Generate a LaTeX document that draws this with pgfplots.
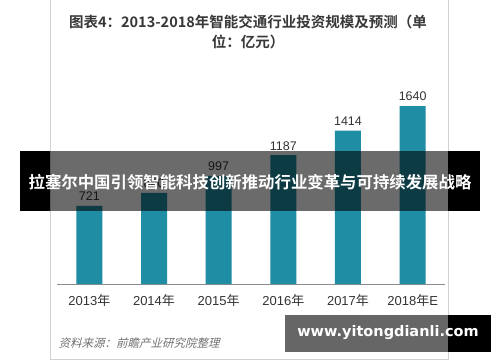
\documentclass[border=0pt]{standalone}
\usepackage{fontspec}
\usepackage{pgfplots}
\pgfplotsset{compat=1.18}
\setmainfont{Liberation Sans}
\newfontfamily\cjk{Noto Sans CJK SC}
\newfontfamily\cjkb{Noto Sans CJK SC Bold}
\newfontfamily\cjkit[FakeSlant=0.25]{Noto Sans CJK SC}
\newfontfamily\webfont{DejaVu Sans Bold}
\definecolor{bar}{HTML}{1F8DA3}
\definecolor{txt}{HTML}{333333}
\begin{document}
\begin{tikzpicture}[x=1pt,y=1pt]
\useasboundingbox (0,0) rectangle (500,362);
\fill[white] (0,0) rectangle (500,362);
\draw[black!18, line width=1pt] (50,3) rectangle (448,362.5);
% title
\node[align=center, text=black!78, font=\cjkb\fontsize{14.5}{20}\selectfont] at (248,330)
  {图表4：2013-2018年智能交通行业投资规模及预测（单\\位：亿元）};
\begin{axis}[
  at={(57pt,78pt)}, anchor=south west,
  scale only axis, width=388pt, height=200pt,
  xmin=-0.5, xmax=5.5, ymin=0, ymax=1843,
  axis x line*=bottom, axis y line=none,
  x axis line style={draw=black!45, line width=0.6pt, -},
  major tick length=0pt,
  xtick={0,1,2,3,4,5},
  xticklabels={2013{\cjk 年},2014{\cjk 年},2015{\cjk 年},2016{\cjk 年},2017{\cjk 年},2018{\cjk 年}E},
  xticklabel style={font=\fontsize{13}{13}\selectfont, text=txt, yshift=-7pt},
  ytick=\empty,
  ybar, bar width=26pt,
  nodes near coords,
  every node near coord/.append style={font=\fontsize{12.5}{12.5}\selectfont, text=txt, yshift=1.5pt, /pgf/number format/assume math mode=true, /pgf/number format/1000 sep={}},
  /pgf/number format/1000 sep={},
  clip=false,
]
\addplot[fill=bar, draw=none] coordinates {(0,721) (1,840) (2,997) (3,1187) (4,1414) (5,1640)};
\end{axis}
% banner
\fill[black] (20,151) rectangle (50,211);
\fill[black] (448,151) rectangle (480,211);
\fill[black, opacity=0.58] (50,151) rectangle (448,211);
\node[text=white, font=\cjkb\fontsize{16.4}{16.4}\selectfont] at (250,180) {拉塞尔中国引领智能科技创新推动行业变革与可持续发展战略};
% source
\node[anchor=west, text=black!55, font=\cjkit\fontsize{11.5}{11.5}\selectfont] at (55,19) {资料来源：前瞻产业研究院整理};
% web box
\fill[black] (448,10) rectangle (491,47);
\fill[black, opacity=0.6] (285,10) rectangle (448,47);
\node[text=white, font=\webfont\fontsize{14.5}{14.5}\selectfont] at (388,29) {www.yitongdianli.com};
\end{tikzpicture}
\end{document}
